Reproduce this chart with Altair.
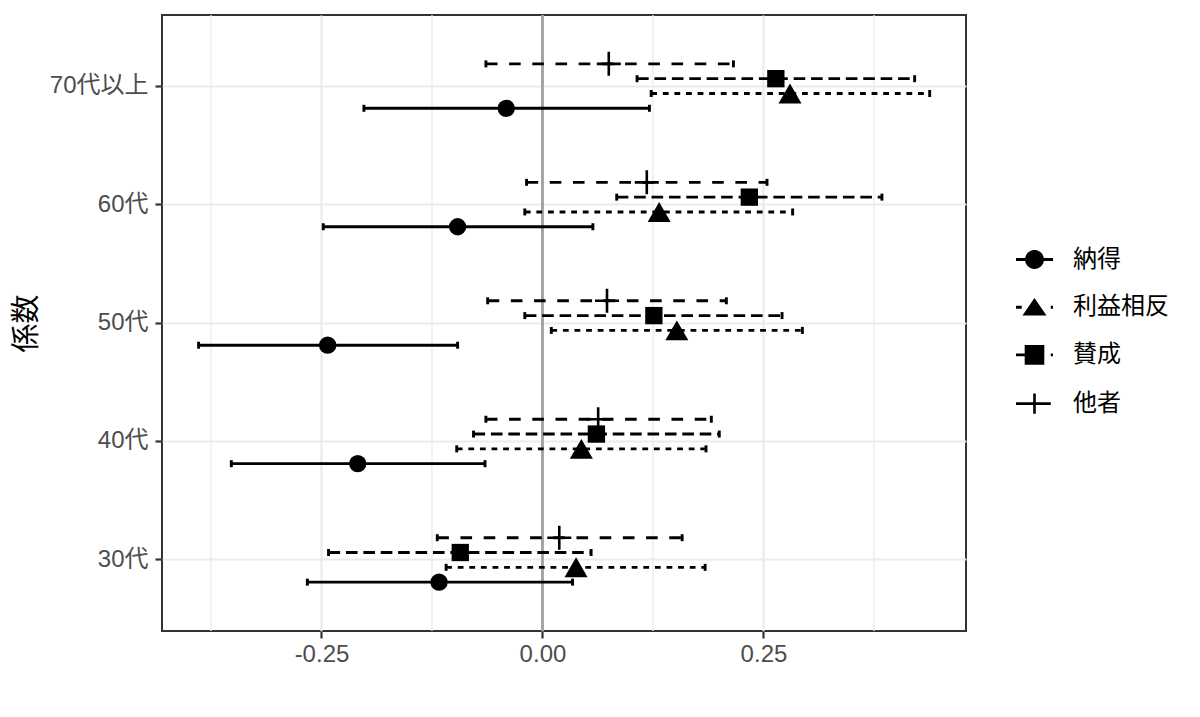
import altair as alt
import pandas as pd

# ---- data ----
ages = ["30代", "40代", "50代", "60代", "70代以上"]
series = ["納得", "利益相反", "賛成", "他者"]

est_nattoku = [-0.117, -0.209, -0.243, -0.096, -0.041]
lo_nattoku = [-0.266, -0.352, -0.389, -0.248, -0.202]
hi_nattoku = [0.034, -0.065, -0.096, 0.057, 0.121]

est_rieki = [0.038, 0.044, 0.152, 0.132, 0.280]
lo_rieki = [-0.109, -0.097, 0.010, -0.020, 0.123]
hi_rieki = [0.184, 0.185, 0.294, 0.283, 0.438]

est_sansei = [-0.093, 0.061, 0.126, 0.234, 0.264]
lo_sansei = [-0.242, -0.078, -0.020, 0.084, 0.107]
hi_sansei = [0.055, 0.200, 0.271, 0.384, 0.421]

est_tasha = [0.019, 0.063, 0.073, 0.118, 0.075]
lo_tasha = [-0.119, -0.064, -0.062, -0.018, -0.064]
hi_tasha = [0.158, 0.191, 0.208, 0.254, 0.216]

x_major = [-0.25, 0.0, 0.25]
x_minor = [-0.375, -0.125, 0.125, 0.375]
zero_line = [0.0]

# ---- build table ----
rows = []
for name, est, lo, hi in [
    ("納得", est_nattoku, lo_nattoku, hi_nattoku),
    ("利益相反", est_rieki, lo_rieki, hi_rieki),
    ("賛成", est_sansei, lo_sansei, hi_sansei),
    ("他者", est_tasha, lo_tasha, hi_tasha),
]:
    for a, e, l, h in zip(ages, est, lo, hi):
        rows.append({"age": a, "series": name, "est": e, "lo": l, "hi": h})
df = pd.DataFrame(rows)

FONT = "Liberation Sans, Noto Sans CJK JP"

xscale = alt.Scale(domain=[-0.4304, 0.4791], nice=False, zero=False)
xaxis = alt.Axis(
    values=x_major,
    labelExpr="replace(format(datum.value, '.2f'), '\u2212', '-')",
    labelPadding=4,
)
age_order = list(reversed(ages))
yscale = alt.Scale(type="band", domain=age_order, paddingInner=0.5, paddingOuter=0.35)
yaxis = alt.Axis(bandPosition=0.5, labelPadding=7, titlePadding=8)
y_enc = alt.Y("age:N", scale=yscale, axis=yaxis, title="係数")
dodge_order = ["他者", "賛成", "利益相反", "納得"]
yoff = alt.YOffset("series:N", scale=alt.Scale(domain=dodge_order, paddingInner=0, paddingOuter=0))

# styles (line types in dodge order: 他者, 賛成, 利益相反, 納得)
dashes = [[11.6, 11.6], [11.6, 5.8], [5.8, 5.8], [1, 0]]
point_style = {
    "納得": dict(shape="circle", size=300, filled=True, strokeWidth=0),
    "利益相反": dict(shape="triangle-up", size=530, filled=True, strokeWidth=0),
    "賛成": dict(shape="square", size=300, filled=True, strokeWidth=0),
    "他者": dict(shape="M-1,0H1M0,-1V1", size=576, filled=False, strokeWidth=2.6),
}

# legend key glyphs, built only from filled areas (unit symbol space, clockwise)
HW = 0.078


def hbar(x0, x1, h=HW):
    return f"M{x0},{-h}H{x1}V{h}H{x0}Z"


def vbar(y0, y1, w=0.07):
    return f"M{-w},{y0}H{w}V{y1}H{-w}Z"


def circle(r):
    k = round(r * 0.5523, 4)
    return (
        f"M{r},0C{r},{k},{k},{r},0,{r}C{-k},{r},{-r},{k},{-r},0"
        f"C{-r},{-k},{-k},{-r},0,{-r}C{k},{-r},{r},{-k},{r},0Z"
    )


legend_paths = [
    hbar(-1, 1) + circle(0.51),
    hbar(-1, -0.69) + hbar(0.88, 1) + "M0,-0.5L0.65,0.45L-0.65,0.45Z",
    hbar(-1, -0.4) + hbar(0.88, 1) + "M-0.53,-0.53H0.53V0.53H-0.53Z",
    hbar(-1, -0.37) + hbar(0.25, 0.88) + hbar(-0.6, 0.6, 0.07) + vbar(-0.55, 0.55),
]

minor = alt.Chart(pd.DataFrame({"v": x_minor})).mark_rule(
    color="#EBEBEB", strokeWidth=1.3
).encode(x=alt.X("v:Q", scale=xscale, axis=xaxis, title=None))

zero = alt.Chart(pd.DataFrame({"v": zero_line})).mark_rule(
    color="#A3A3A3", strokeWidth=2.9
).encode(x=alt.X("v:Q", scale=xscale, axis=xaxis, title=None))

base = alt.Chart(df)

bars = base.mark_rule(color="black", strokeWidth=2.9).encode(
    x=alt.X("lo:Q", scale=xscale, axis=xaxis, title=None),
    x2="hi:Q",
    y=y_enc,
    yOffset=yoff,
    strokeDash=alt.StrokeDash(
        "series:N", scale=alt.Scale(domain=dodge_order, range=dashes), legend=None
    ),
)

caps = base.transform_fold(["lo", "hi"], as_=["end", "xv"]).mark_tick(
    color="black", thickness=2.9, size=7, opacity=1
).encode(
    x=alt.X("xv:Q", scale=xscale, axis=xaxis, title=None),
    y=y_enc,
    yOffset=yoff,
)

point_layers = []
for s in series:
    st = point_style[s]
    point_layers.append(
        base.transform_filter(alt.datum.series == s)
        .mark_point(
            shape=st["shape"],
            size=st["size"],
            filled=st["filled"],
            color="black",
            strokeWidth=st["strokeWidth"],
            opacity=1,
        )
        .encode(
            x=alt.X("est:Q", scale=xscale, axis=xaxis, title=None),
            y=y_enc,
            yOffset=yoff,
        )
    )

# invisible layer that only carries the legend (ggplot-like key glyphs)
legend_layer = base.mark_point(filled=True, color="black", opacity=0).encode(
    x=alt.X("est:Q", scale=xscale, axis=xaxis, title=None),
    y=y_enc,
    yOffset=yoff,
    shape=alt.Shape(
        "series:N",
        scale=alt.Scale(domain=series, range=legend_paths),
        legend=alt.Legend(
            title=None,
            orient="none",
            legendX=853,
            legendY=225,
            symbolSize=1369,
            symbolFillColor="black",
            symbolOpacity=1,
            labelFont=FONT,
            labelFontSize=24,
            labelColor="black",
            labelOffset=19,
            rowPadding=15.7,
            padding=0,
        ),
    ),
)

chart = (
    alt.layer(minor, zero, bars, caps, *point_layers, legend_layer)
    .properties(
        width=804,
        height=616,
        padding={"left": 4, "top": 5, "right": 10, "bottom": 5},
        background="white",
    )
    .configure_view(stroke="#333333", strokeWidth=2)
    .configure_axis(
        labelFont=FONT,
        titleFont=FONT,
        labelFontSize=24,
        labelColor="#4D4D4D",
        tickColor="#333333",
        tickWidth=2.2,
        tickSize=7,
        domain=False,
        grid=True,
        gridColor="#EBEBEB",
        gridWidth=2.2,
        titleFontSize=29,
        titleFontWeight="normal",
        titleColor="black",
    )
)

chart.save("out.html", embed_options={"renderer": "svg", "actions": False})
